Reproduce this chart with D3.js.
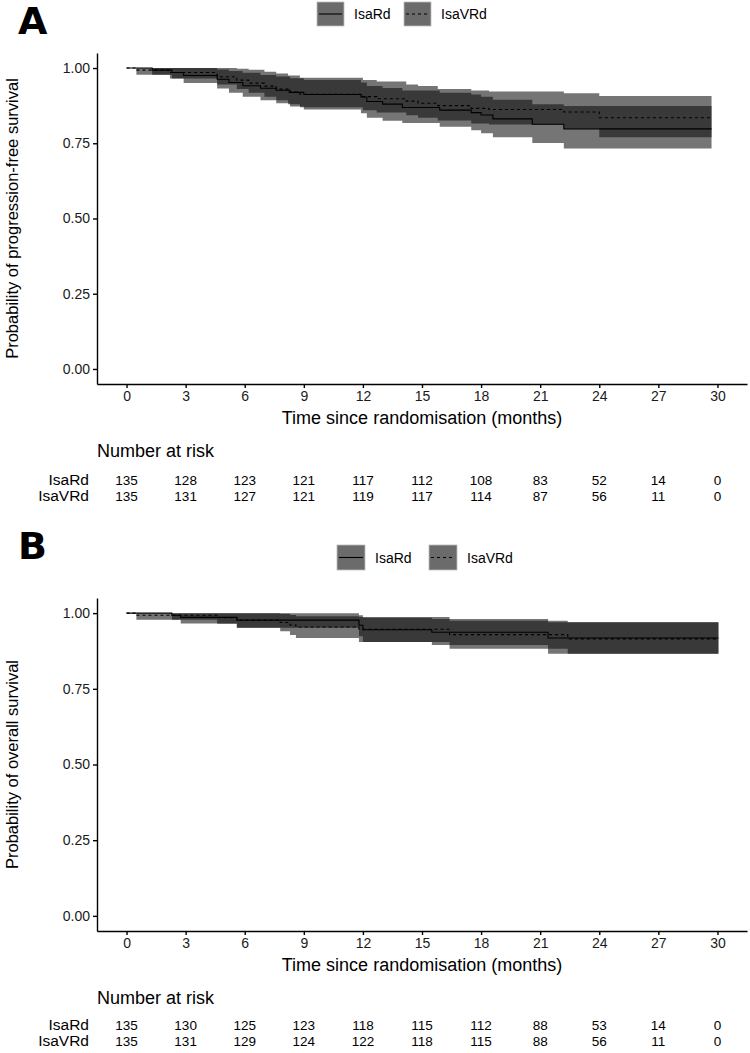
<!DOCTYPE html>
<html>
<head>
<meta charset="utf-8">
<title>Progression-free and overall survival</title>
<style>
  body { margin: 0; background: #fff; }
  text { font-family: "Liberation Sans", Arial, Helvetica, sans-serif; fill: #000; }
  .tick text { font-size: 14px; fill: #1a1a1a; font-family: "Liberation Sans", Arial, Helvetica, sans-serif; }
  .domain, .tick line { stroke: #000; stroke-width: 1.4px; }
</style>
</head>
<body>
<div id="chart"></div>
<script src="https://cdn.jsdelivr.net/npm/d3@7"></script>
<script>
// axis ticks
const timeTicks = [0, 3, 6, 9, 12, 15, 18, 21, 24, 27, 30];
const probTicks = [0, 0.25, 0.5, 0.75, 1];
const groups = ["IsaRd", "IsaVRd"];

// Panel A - progression-free survival (step changes)
const pfsRdTime = [0, 1.3, 2.3, 2.9, 4.6, 5.2, 5.9, 6.8, 7.6, 8.3, 9.0, 11.9, 12.2, 13.0, 14.0, 15.9, 17.5, 18.0, 18.6, 20.6, 22.2];
const pfsRdSurv = [1, .993, .985, .975, .963, .952, .941, .933, .926, .919, .912, .904, .889, .880, .869, .860, .852, .844, .831, .813, .798];
const pfsRdLow  = [1, .978, .965, .950, .932, .918, .905, .893, .883, .872, .862, .850, .835, .825, .817, .805, .793, .783, .770, .751, .733];
const pfsRdUp   = [1, 1, 1, 1, .995, .990, .984, .977, .972, .966, .960, .952, .940, .934, .925, .918, .912, .905, .895, .880, .874];

const pfsVRdTime = [0, 0.5, 2.2, 4.6, 5.6, 6.2, 7.0, 7.6, 8.2, 8.8, 12.0, 12.7, 14.2, 14.8, 15.8, 17.5, 18.4, 22.2, 24.0];
const pfsVRdSurv = [1, .993, .985, .971, .960, .950, .940, .930, .920, .913, .905, .898, .890, .883, .875, .866, .862, .854, .835];
const pfsVRdLow  = [1, .978, .965, .945, .930, .918, .905, .893, .880, .870, .860, .852, .843, .835, .826, .816, .812, .800, .770];
const pfsVRdUp   = [1, 1, 1, 1, .998, .994, .988, .982, .975, .968, .960, .955, .945, .940, .930, .925, .922, .916, .907];
const pfsEnd = 29.7;

const pfsRiskRd  = [135, 128, 123, 121, 117, 112, 108, 83, 52, 14, 0];
const pfsRiskVRd = [135, 131, 127, 121, 119, 117, 114, 87, 56, 11, 0];

// Panel B - overall survival
const osRdTime = [0, 2.3, 2.75, 5.6, 11.8, 12.0, 15.5, 21.4];
const osRdSurv = [1, .993, .986, .977, .960, .945, .937, .918];
const osRdLow  = [1, .978, .966, .952, .924, .905, .895, .866];
const osRdUp   = [1, 1, 1, 1, .993, .985, .981, .970];

const osVRdTime = [0, 0.5, 4.6, 5.6, 7.8, 8.3, 8.6, 11.8, 16.4, 22.4];
const osVRdSurv = [1, .993, .985, .977, .969, .961, .954, .947, .929, .915];
const osVRdLow  = [1, .978, .965, .952, .940, .928, .918, .905, .882, .866];
const osVRdUp   = [1, 1, 1, 1, .998, .994, .990, .987, .975, .970];
const osEnd = 30.05;

const osRiskRd  = [135, 130, 125, 123, 118, 115, 112, 88, 53, 14, 0];
const osRiskVRd = [135, 131, 129, 124, 122, 118, 115, 88, 56, 11, 0];

const svg = d3.select("#chart").append("svg")
    .attr("width", 750)
    .attr("height", 1053);

function steps(time, surv, low, up, end) {
  const rows = time.map((t, i) => ({t: t, s: surv[i], lo: low[i], hi: up[i]}));
  const last = rows[rows.length - 1];
  rows.push({t: end, s: last.s, lo: last.lo, hi: last.hi});
  return rows;
}

function drawPanel(p) {
  const g = svg.append("g");
  const x = d3.scaleLinear().domain([-1.5, 31.5]).range([97, 747]);
  const y = d3.scaleLinear().domain([-0.05, 1.05]).range([p.bottom, p.top]);

  const area = d3.area().curve(d3.curveStepAfter)
      .x(d => x(d.t)).y0(d => y(d.lo)).y1(d => y(d.hi));
  const line = d3.line().curve(d3.curveStepAfter)
      .x(d => x(d.t)).y(d => y(d.s));

  // confidence bands
  p.series.forEach(s => {
    g.append("path").attr("d", area(s.rows))
        .attr("fill", "#0d0d0d").attr("fill-opacity", 0.57);
  });
  // KM curves
  p.series.forEach(s => {
    g.append("path").attr("d", line(s.rows))
        .attr("fill", "none").attr("stroke", "#000").attr("stroke-width", 1.1)
        .attr("stroke-dasharray", s.dash);
  });

  g.append("g").attr("transform", `translate(97,0)`)
      .call(d3.axisLeft(y).tickValues(probTicks).tickFormat(d3.format(".2f"))
        .tickSize(4).tickSizeOuter(0).tickPadding(3));
  g.append("g").attr("transform", `translate(0,${p.bottom})`)
      .call(d3.axisBottom(x).tickValues(timeTicks).tickSize(4).tickSizeOuter(0).tickPadding(3));

  g.append("text")
      .attr("x", 422).attr("y", p.bottom + 40)
      .attr("text-anchor", "middle").style("font-size", "18px")
      .text("Time since randomisation (months)");

  g.append("text")
      .attr("transform", `translate(18,${(p.top + p.bottom) / 2}) rotate(-90)`)
      .attr("text-anchor", "middle").style("font-size", "16.5px")
      .text(p.ytitle);

  g.append("text")
      .attr("x", 18).attr("y", p.letterY)
      .style("font-family", "'DejaVu Sans', sans-serif").style("font-weight", "900")
      .style("font-size", "38px")
      .text(p.letter);

  // legend
  const lg = g.append("g");
  p.series.forEach((s, i) => {
    const lx = p.legendX[i];
    lg.append("rect").attr("x", lx).attr("y", p.legendY)
        .attr("width", p.keyW).attr("height", p.keyH)
        .attr("fill", "#6b6b6b").attr("stroke", "#bdbdbd").attr("stroke-width", 0.8);
    lg.append("line").attr("x1", lx + 2).attr("x2", lx + p.keyW - 2)
        .attr("y1", p.legendY + p.keyH / 2).attr("y2", p.legendY + p.keyH / 2)
        .attr("stroke", "#000").attr("stroke-width", 1.1).attr("stroke-dasharray", s.dash);
    lg.append("text").attr("x", lx + p.keyW + 10).attr("y", p.legendY + p.keyH / 2 + 5)
        .style("font-size", "14px").text(s.name);
  });

  // number at risk
  g.append("text").attr("x", 97).attr("y", p.riskTitleY)
      .style("font-size", "18px").text("Number at risk");
  p.series.forEach((s, i) => {
    const ry = p.riskRowY[i];
    g.append("text").attr("x", 89).attr("y", ry)
        .attr("text-anchor", "end").style("font-size", "15.5px").text(s.name);
    g.selectAll(null).data(s.risk).enter().append("text")
        .attr("x", (d, j) => x(timeTicks[j])).attr("y", ry)
        .attr("text-anchor", "middle").style("font-size", "13.5px")
        .text(d => d);
  });
}

drawPanel({
  top: 53, bottom: 384, letter: "A", letterY: 34,
  ytitle: "Probability of progression-free survival",
  legendX: [317, 404], legendY: 2, keyW: 27, keyH: 24,
  riskTitleY: 457, riskRowY: [485, 501],
  series: [
    {name: groups[0], dash: null, rows: steps(pfsRdTime, pfsRdSurv, pfsRdLow, pfsRdUp, pfsEnd), risk: pfsRiskRd},
    {name: groups[1], dash: "3,3", rows: steps(pfsVRdTime, pfsVRdSurv, pfsVRdLow, pfsVRdUp, pfsEnd), risk: pfsRiskVRd}
  ]
});

drawPanel({
  top: 598, bottom: 931, letter: "B", letterY: 559,
  ytitle: "Probability of overall survival",
  legendX: [337, 429], legendY: 545, keyW: 28, keyH: 25,
  riskTitleY: 1004, riskRowY: [1030, 1046],
  series: [
    {name: groups[0], dash: null, rows: steps(osRdTime, osRdSurv, osRdLow, osRdUp, osEnd), risk: osRiskRd},
    {name: groups[1], dash: "3,3", rows: steps(osVRdTime, osVRdSurv, osVRdLow, osVRdUp, osEnd), risk: osRiskVRd}
  ]
});
</script>
</body>
</html>
